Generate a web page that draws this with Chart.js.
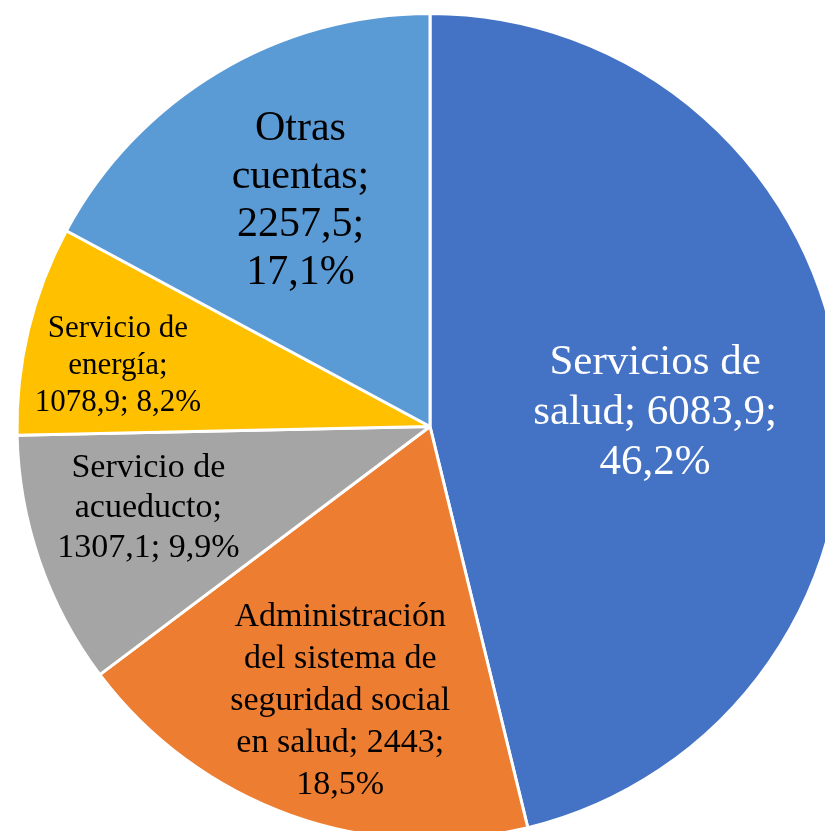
<!DOCTYPE html>
<html>
<head>
<meta charset="utf-8">
<script src="https://cdn.jsdelivr.net/npm/chart.js@4.4.1/dist/chart.umd.min.js"></script>
<style>
  body { margin: 0; background: #fff; overflow: hidden; }
  #wrap { position: absolute; left: 0; top: 12px; width: 860px; height: 829px; }
</style>
</head>
<body>
<div id="wrap"><canvas id="pieChart"></canvas></div>
<script>
const categories = ['Servicios de salud', 'Administración del sistema de seguridad social en salud', 'Servicio de acueducto', 'Servicio de energía', 'Otras cuentas'];
const values = [6083.9, 2443, 1307.1, 1078.9, 2257.5];
const colors = ['#4472C4', '#ED7D31', '#A5A5A5', '#FFC000', '#5B9BD5'];

// label look and placement: angle shift (deg) from slice middle, distance as share of radius
const labelStyle = [
    { size: 43, lh: 50, maxW: 250, color: '#fff', dAng: 3.3, frac: 0.546 },
    { size: 34, lh: 42, maxW: 235, color: '#000', dAng: -1.6, frac: 0.70 },
    { size: 34, lh: 40, maxW: 210, color: '#000', dAng: 2.9, frac: 0.71 },
    { size: 31, lh: 37, maxW: 185, color: '#000', dAng: -2.5, frac: 0.77 },
    { size: 42, lh: 48, maxW: 160, color: '#000', dAng: 1.0, frac: 0.63 }
];

const total = values.reduce((s, v) => s + v, 0);

function fmt(v) {
    return String(v).replace('.', ',');
}

function wrap(ctx, text, maxW) {
    const words = text.split(' ');
    const lines = [];
    let cur = '';
    words.forEach(w => {
        const test = cur ? cur + ' ' + w : w;
        if (cur && ctx.measureText(test).width > maxW) {
            lines.push(cur);
            cur = w;
        } else {
            cur = test;
        }
    });
    if (cur) lines.push(cur);
    return lines;
}

const sliceLabels = {
    id: 'sliceLabels',
    afterDatasetsDraw(chart) {
        const ctx = chart.ctx;
        const meta = chart.getDatasetMeta(0);
        meta.data.forEach((arc, i) => {
            const st = labelStyle[i];
            const p = arc.getProps(['x', 'y', 'startAngle', 'endAngle', 'outerRadius'], true);
            const ang = (p.startAngle + p.endAngle) / 2 + st.dAng * Math.PI / 180;
            const cx = p.x + Math.cos(ang) * st.frac * p.outerRadius;
            const cy = p.y + Math.sin(ang) * st.frac * p.outerRadius;
            const pct = (values[i] / total * 100).toFixed(1).replace('.', ',') + '%';
            const text = categories[i] + '; ' + fmt(values[i]) + '; ' + pct;

            ctx.save();
            ctx.font = st.size + 'px "Liberation Serif", "Times New Roman", serif';
            ctx.fillStyle = st.color;
            ctx.textAlign = 'center';
            ctx.textBaseline = 'middle';
            const lines = wrap(ctx, text, st.maxW);
            const y0 = cy - (lines.length - 1) * st.lh / 2;
            lines.forEach((ln, k) => ctx.fillText(ln, cx, y0 + k * st.lh));
            ctx.restore();
        });
    }
};

const ctx = document.getElementById('pieChart').getContext('2d');
new Chart(ctx, {
    type: 'pie',
    data: {
        labels: categories,
        datasets: [{
            data: values,
            backgroundColor: colors,
            borderColor: '#fff',
            borderWidth: 3
        }]
    },
    options: {
        responsive: true,
        maintainAspectRatio: false,
        animation: false,
        layout: { padding: 0 },
        plugins: {
            legend: { display: false },
            tooltip: { enabled: false }
        }
    },
    plugins: [sliceLabels]
});
</script>
</body>
</html>
